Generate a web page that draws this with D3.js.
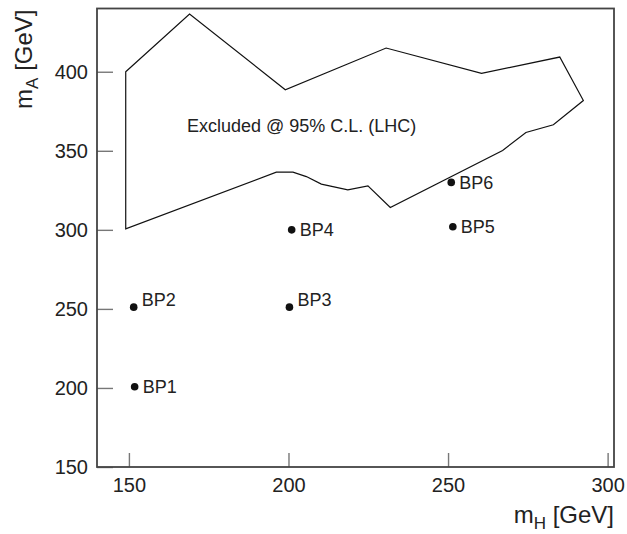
<!DOCTYPE html>
<html>
<head>
<meta charset="utf-8">
<script src="https://cdn.jsdelivr.net/npm/d3@7"></script>
<style>
	body { margin: 0; background: #fff; }
	text { font-family: 'Liberation Sans', Arial, sans-serif; fill: #222; }
</style>
</head>
<body>
<svg id="chart" width="627" height="534"></svg>
<script>
// Data
const xTicks = [150, 200, 250, 300]
const yTicks = [150, 200, 250, 300, 350, 400]

// excluded region contour (mH, mA)
const contourH = [149, 169, 199, 230.6, 260.5, 285, 292.4, 283, 274.4, 267.1, 231.9, 224.9, 218.6, 210.3, 205.6, 201.4, 196.2, 149]
const contourA = [400, 436.5, 388.6, 415, 399, 409.3, 381.8, 366.5, 361.6, 350.2, 314.1, 327.8, 325.3, 328.9, 333.7, 336.5, 336.5, 300.6]

// benchmark points
const bpNames = ['BP1', 'BP2', 'BP3', 'BP4', 'BP5', 'BP6']
const bpH = [151.8, 151.5, 200.3, 201, 251.5, 251]
const bpA = [200.8, 251.1, 251.1, 300, 302, 330]

const svg = d3.select('#chart')
const width = +svg.attr('width')
const height = +svg.attr('height')
const margin = { top: 8.5, right: 13, bottom: 67, left: 97 }
const iw = width - margin.left - margin.right
const ih = height - margin.top - margin.bottom

const x = d3.scaleLinear().domain([140, 302]).range([0, iw])
const y = d3.scaleLinear().domain([150, 440]).range([ih, 0])

const g = svg.append('g').attr('transform', `translate(${margin.left},${margin.top})`)

// Axes (ticks inside)
const xAxis = g.append('g')
	.attr('transform', `translate(0,${ih})`)
	.call(d3.axisBottom(x).tickValues(xTicks).tickSize(-14).tickPadding(0).tickFormat(d3.format('d')))
xAxis.select('.domain').remove()
xAxis.selectAll('line').attr('stroke', '#777').attr('stroke-width', 1.4)
xAxis.selectAll('text')
	.attr('y', 25).attr('dy', 0)
	.style('font-size', '20px')
	.style('font-family', "'Liberation Sans', Arial, sans-serif")
	.attr('fill', '#222')

const yAxis = g.append('g')
	.call(d3.axisLeft(y).tickValues(yTicks).tickSize(-16).tickPadding(9).tickFormat(d3.format('d')))
yAxis.select('.domain').remove()
yAxis.selectAll('line').attr('stroke', '#777').attr('stroke-width', 1.4)
yAxis.selectAll('text')
	.attr('x', -9)
	.style('font-size', '20px')
	.style('font-family', "'Liberation Sans', Arial, sans-serif")
	.attr('fill', '#222')

// Frame
g.append('rect')
	.attr('width', iw)
	.attr('height', ih)
	.attr('fill', 'none')
	.attr('stroke', '#444')
	.attr('stroke-width', 1.8)

// Excluded region
const contour = contourH.map((h, i) => [h, contourA[i]])
g.append('path')
	.datum(contour)
	.attr('fill', 'none')
	.attr('stroke', '#111')
	.attr('stroke-width', 1.2)
	.attr('d', d3.line().x((d) => x(d[0])).y((d) => y(d[1])).curve(d3.curveLinearClosed))

g.append('text')
	.attr('x', x(168.2))
	.attr('y', y(362))
	.style('font-size', '18px')
	.text('Excluded @ 95% C.L. (LHC)')

// Benchmark points
const points = bpNames.map((name, i) => ({ name, h: bpH[i], a: bpA[i] }))
const raised = ['BP2', 'BP3']

g.selectAll('.bp')
	.data(points)
	.enter()
	.append('circle')
	.attr('class', 'bp')
	.attr('cx', (d) => x(d.h))
	.attr('cy', (d) => y(d.a))
	.attr('r', 3.8)
	.attr('fill', '#111')

g.selectAll('.bpLabel')
	.data(points)
	.enter()
	.append('text')
	.attr('class', 'bpLabel')
	.attr('x', (d) => x(d.h) + 8)
	.attr('y', (d) => y(d.a) + (raised.includes(d.name) ? -1 : 6.5))
	.style('font-size', '18px')
	.text((d) => d.name)

// Axis titles
const xTitle = svg.append('text')
	.attr('x', margin.left + iw)
	.attr('y', 523)
	.attr('text-anchor', 'end')
	.style('font-size', '24px')
xTitle.append('tspan').text('m')
xTitle.append('tspan').attr('dy', 6).style('font-size', '17px').text('H')
xTitle.append('tspan').attr('dy', -6).text(' [GeV]')

const yTitle = svg.append('text')
	.attr('transform', `translate(32,${margin.top + 1}) rotate(-90)`)
	.attr('text-anchor', 'end')
	.style('font-size', '24px')
yTitle.append('tspan').text('m')
yTitle.append('tspan').attr('dy', 6).style('font-size', '17px').text('A')
yTitle.append('tspan').attr('dy', -6).text(' [GeV]')
</script>
</body>
</html>
